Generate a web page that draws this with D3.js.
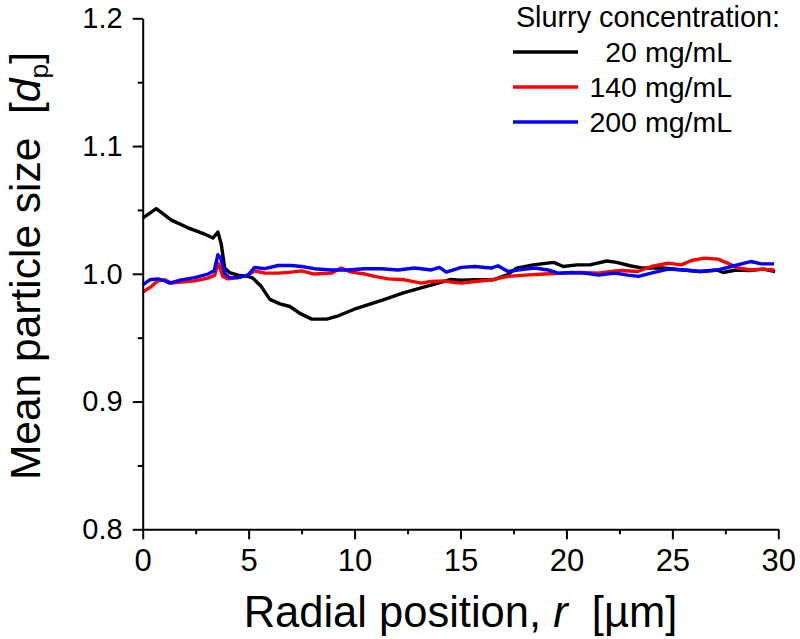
<!DOCTYPE html>
<html><head><meta charset="utf-8">
<script src="https://cdn.jsdelivr.net/npm/d3@7"></script>
<style>body{margin:0;background:#fff}svg{display:block}</style>
</head><body>
<svg id="c" width="800" height="639"></svg>
<script>
const xTicks = [0,5,10,15,20,25,30];
const yTicks = [0.8,0.9,1.0,1.1,1.2];
const seriesNames = ["20 mg/mL","140 mg/mL","200 mg/mL"];
const seriesColors = ["#000000","#ff0000","#0000ff"];

const r20 = [0,0.64,1.35,2.14,2.93,3.32,3.55,3.71,3.87,4.1,4.5,4.97,5.2,5.6,6.0,6.48,6.95,7.42,7.98,8.68,9.15,10.1,11.35,12.3,13.1,13.9,14.5,15.0,15.76,16.55,17.2,17.65,18.43,19.4,19.85,20.5,21.1,21.9,22.37,23.0,23.6,24.57,25.5,26.3,27.1,27.4,28.0,28.66,29.3,29.85];
const v20 = [1.0436,1.051,1.042,1.036,1.031,1.028,1.0327,1.023,1.0045,1.001,0.999,0.998,0.9966,0.990,0.980,0.9765,0.9744,0.969,0.9645,0.9645,0.9666,0.973,0.9796,0.985,0.9888,0.9925,0.9955,0.995,0.9953,0.9953,0.9992,1.0045,1.007,1.0089,1.0057,1.007,1.007,1.010,1.0089,1.0063,1.0045,1.0045,1.003,1.0018,1.003,1.001,1.003,1.0026,1.0037,1.0018];

const r140 = [0,0.4,0.72,1.04,1.35,1.82,2.45,3.08,3.4,3.55,3.63,3.78,4.03,4.5,4.97,5.28,5.76,6.4,7.0,7.5,8.1,8.9,9.37,9.85,10.5,10.95,11.58,12.36,13.15,13.6,14.25,14.56,15.04,15.67,16.45,17.24,18.03,18.97,19.92,20.7,21.5,22.1,22.59,23.37,24.0,24.8,25.42,25.9,26.5,27.15,27.6,28.1,28.7,29.2,29.8];
const v140 = [0.9857,0.990,0.9945,0.9953,0.9927,0.9935,0.9945,0.9966,0.999,1.0084,1.0057,0.998,0.996,0.997,0.999,1.0023,1.0005,1.0005,1.0013,1.0023,0.9998,1.0005,1.0045,1.0013,0.9998,0.998,0.996,0.9953,0.9927,0.994,0.9945,0.9935,0.9927,0.994,0.9953,0.998,0.999,0.9998,1.0005,1.001,1.0005,1.0018,1.0026,1.0018,1.0057,1.0084,1.007,1.0104,1.0123,1.0115,1.0084,1.0045,1.003,1.0037,1.003];

const r200 = [0,0.33,0.72,1.04,1.27,1.82,2.45,3.08,3.37,3.55,3.68,3.87,4.1,4.5,4.97,5.28,5.76,6.4,7.0,7.5,8.1,8.9,9.69,10.48,11.26,12.05,12.84,13.62,14.0,14.33,15.04,15.67,16.45,16.77,17.24,17.7,18.5,19.13,19.6,20.2,20.86,21.5,22.28,22.9,23.4,24.0,24.8,25.57,26.36,27.15,27.78,28.4,28.7,29.2,29.8];
const v200 = [0.9914,0.9953,0.996,0.9945,0.9927,0.9953,0.997,0.9998,1.0023,1.0149,1.0123,1.0005,0.997,0.997,0.999,1.005,1.004,1.0065,1.0065,1.0057,1.004,1.003,1.003,1.004,1.004,1.003,1.0045,1.003,1.005,1.0013,1.005,1.0057,1.0045,1.0063,1.0018,1.003,1.0045,1.003,1.0005,1.001,1.0005,0.999,1.0005,0.999,0.998,1.0005,1.0037,1.003,1.0018,1.003,1.0057,1.0084,1.0096,1.0078,1.0078];

const rs = [r20, r140, r200];
const vs = [v20, v140, v200];

const FONT = "'Liberation Sans', Arial, Helvetica, sans-serif";
const svg = d3.select("#c");
const x = d3.scaleLinear().domain([0,30]).range([142.7,778.3]);
const y = d3.scaleLinear().domain([0.8,1.2]).range([529.3,18.3]);

// data lines
const line = d3.line().x(d=>x(d[0])).y(d=>y(d[1]));
rs.forEach((r,i)=>{
  const pts = r.map((rv,j)=>[rv, vs[i][j]]);
  svg.append("path").datum(pts).attr("d", line)
    .attr("fill","none").attr("stroke", seriesColors[i])
    .attr("stroke-width",3.4).attr("stroke-linejoin","round");
});

// axes
const xMinor = d3.range(0,31,2.5).filter(v=>v%5!==0);
const yMinor = [0.85,0.95,1.05,1.15];
function styleAxis(g){
  g.select(".domain").attr("stroke","#000").attr("stroke-width",2);
  g.selectAll(".tick line").attr("stroke","#000").attr("stroke-width",2);
  g.selectAll("text").attr("font-family",FONT).attr("fill","#000");
}
const gx = svg.append("g").attr("transform",`translate(0,${y(0.8)})`)
  .call(d3.axisBottom(x).tickValues(xTicks).tickSize(10).tickPadding(10).tickSizeOuter(0).tickFormat(d3.format("d")));
styleAxis(gx); gx.selectAll("text").attr("font-size",31);
const gxm = svg.append("g").attr("transform",`translate(0,${y(0.8)})`)
  .call(d3.axisBottom(x).tickValues(xMinor).tickSize(5).tickSizeOuter(0).tickFormat(""));
styleAxis(gxm); gxm.select(".domain").remove();

const gy = svg.append("g").attr("transform",`translate(${x(0)},0)`)
  .call(d3.axisLeft(y).tickValues(yTicks).tickSize(10).tickPadding(10).tickSizeOuter(0).tickFormat(d3.format(".1f")));
styleAxis(gy); gy.selectAll("text").attr("font-size",29);
const gym = svg.append("g").attr("transform",`translate(${x(0)},0)`)
  .call(d3.axisLeft(y).tickValues(yMinor).tickSize(5).tickSizeOuter(0).tickFormat(""));
styleAxis(gym); gym.select(".domain").remove();

// axis titles
const xt = svg.append("text").attr("x",(x(0)+x(30))/2).attr("y",627)
  .attr("text-anchor","middle").attr("font-family",FONT).attr("font-size",43.5);
xt.append("tspan").text("Radial position, ");
xt.append("tspan").attr("font-style","italic").text("r");
xt.append("tspan").text("\u00a0 [µm]");

const yt = svg.append("text").attr("transform","translate(40,266) rotate(-90)")
  .attr("text-anchor","middle").attr("font-family",FONT).attr("font-size",42.5);
yt.append("tspan").text("Mean particle size \u00a0[");
yt.append("tspan").attr("font-style","italic").text("d");
yt.append("tspan").attr("font-size",26.5).attr("dy",8).text("p");
yt.append("tspan").attr("dy",-8).text("]");

// legend
svg.append("text").attr("x",780).attr("y",27).attr("text-anchor","end")
  .attr("font-family",FONT).attr("font-size",28.8).text("Slurry concentration:");
const legY = [52,87,122];
seriesNames.forEach((n,i)=>{
  svg.append("line").attr("x1",513).attr("x2",578).attr("y1",legY[i]).attr("y2",legY[i])
    .attr("stroke",seriesColors[i]).attr("stroke-width",3.4);
  svg.append("text").attr("x",732).attr("y",legY[i]+10).attr("text-anchor","end")
    .attr("font-family",FONT).attr("font-size",28.5).text(n);
});
</script>
</body></html>
